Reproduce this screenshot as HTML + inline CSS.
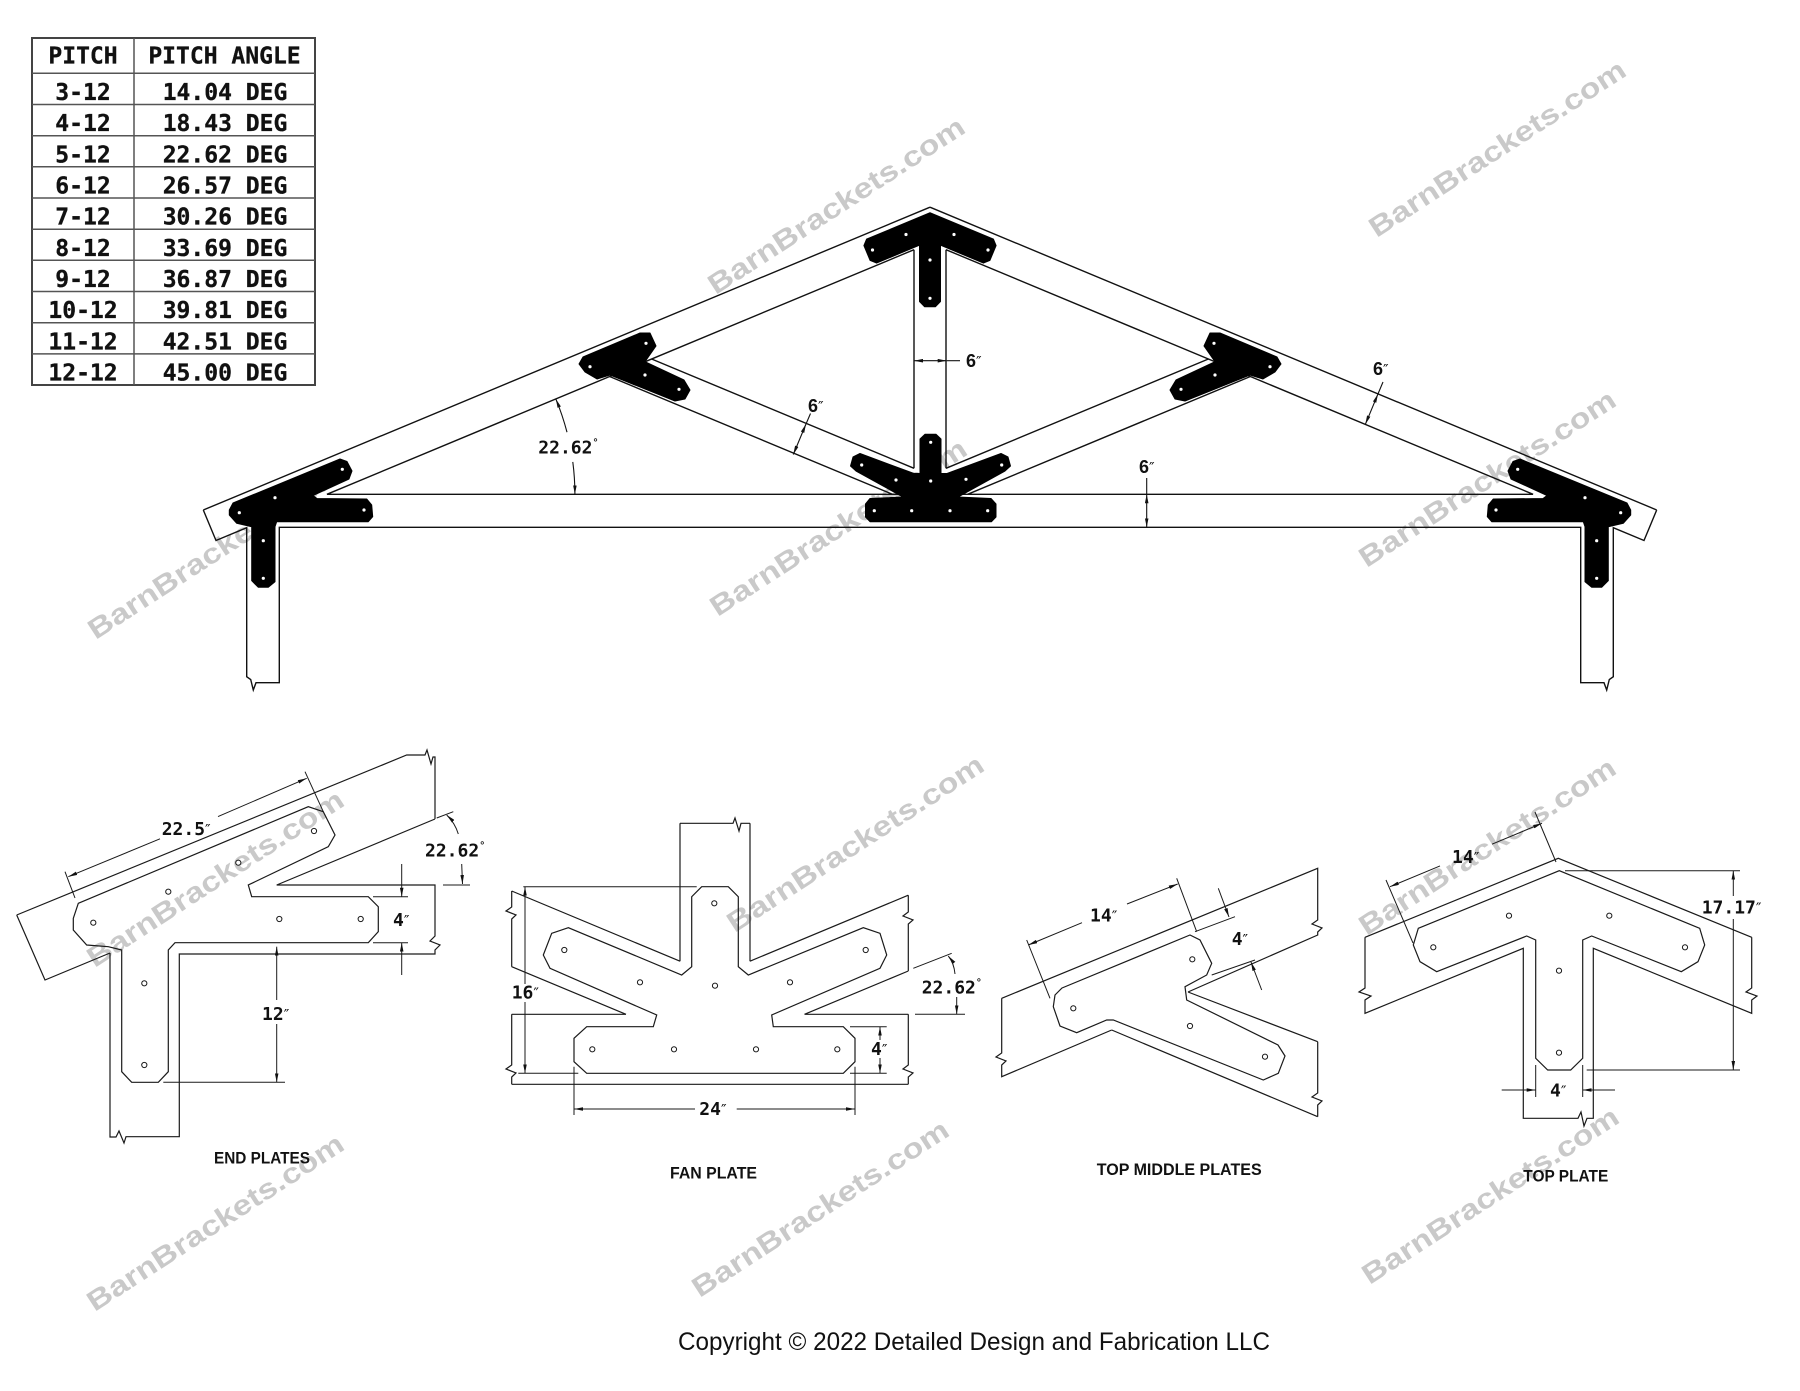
<!DOCTYPE html>
<html><head><meta charset="utf-8"><title>Truss plates</title>
<style>html,body{margin:0;padding:0;background:#fff;}svg{display:block;}</style></head>
<body>
<svg xmlns="http://www.w3.org/2000/svg" width="1800" height="1391" viewBox="0 0 1800 1391">
<defs>
<marker id="ah" viewBox="0 0 10 4" refX="10" refY="2" markerWidth="9" markerHeight="3.6" markerUnits="userSpaceOnUse" orient="auto-start-reverse"><path d="M0,0 L10,2 L0,4z" fill="#111"/></marker>
</defs>
<rect width="1800" height="1391" fill="#fff"/>

<!-- Watermarks (bottom layer) -->
<g font-family="'Liberation Sans', sans-serif" font-weight="bold" font-size="28" fill="#c9c9c9" text-anchor="middle">
 <text x="836" y="215" transform="rotate(-33 836 205)" textLength="300" lengthAdjust="spacingAndGlyphs">BarnBrackets.com</text>
 <text x="1497" y="158" transform="rotate(-33 1497 148)" textLength="300" lengthAdjust="spacingAndGlyphs">BarnBrackets.com</text>
 <text x="216" y="560" transform="rotate(-33 216 550)" textLength="300" lengthAdjust="spacingAndGlyphs">BarnBrackets.com</text>
 <text x="838" y="537" transform="rotate(-33 838 527)" textLength="300" lengthAdjust="spacingAndGlyphs">BarnBrackets.com</text>
 <text x="1487" y="488" transform="rotate(-33 1487 478)" textLength="300" lengthAdjust="spacingAndGlyphs">BarnBrackets.com</text>
 <text x="215" y="888" transform="rotate(-33 215 878)" textLength="300" lengthAdjust="spacingAndGlyphs">BarnBrackets.com</text>
 <text x="855" y="853" transform="rotate(-33 855 843)" textLength="300" lengthAdjust="spacingAndGlyphs">BarnBrackets.com</text>
 <text x="1487" y="856" transform="rotate(-33 1487 846)" textLength="300" lengthAdjust="spacingAndGlyphs">BarnBrackets.com</text>
 <text x="215" y="1232" transform="rotate(-33 215 1222)" textLength="300" lengthAdjust="spacingAndGlyphs">BarnBrackets.com</text>
 <text x="820" y="1218" transform="rotate(-33 820 1208)" textLength="300" lengthAdjust="spacingAndGlyphs">BarnBrackets.com</text>
 <text x="1490" y="1205" transform="rotate(-33 1490 1195)" textLength="300" lengthAdjust="spacingAndGlyphs">BarnBrackets.com</text>
</g>

<!-- Detail drawings: timbers -->
<g fill="none" stroke="#1a1a1a" stroke-width="1.2">
 <path d="M16.7,915 L406.7,755 L425,755 L427,750 L431,764 L433,757 L435,757 L435,819 M16.7,915 L45,980 L110,953 M435,819 L276.7,885 L435,885 L435,936 L430,941 L440,945 L435,950 L435,954 L179.3,954 L179.3,1136.7 L126,1136.7 L124,1143 L119,1131 L116,1137 L110,1137 L110,953"/>
 <path d="M680,823.3 L680,961.2 M750,823.3 L750,961.2 M680,823.3 L733,823.3 L735,818 L739,831 L741,823.3 L750,823.3 M511.7,891 L680,961.2 M511.7,966.7 L626,1014.3 M511.7,891 L511.7,907 L506,911 L516,915 L511.7,919 L511.7,966.7 M750,961.2 L908.3,895.2 M804.5,1014.3 L908.3,971 M908.3,895.2 L908.3,912 L903,916 L913,920 L908.3,924 L908.3,971 M511.7,1014.3 L626,1014.3 M804.5,1014.3 L908.3,1014.3 M511.7,1084.3 L908.3,1084.3 M511.7,1014.3 L511.7,1065 L506,1069 L516,1073 L511.7,1077 L511.7,1084.3 M908.3,1014.3 L908.3,1065 L903,1069 L913,1073 L908.3,1077 L908.3,1084.3"/>
 <path d="M1001.7,998.3 L1317.7,868.3 L1317.7,920 L1312,924 L1322,928 L1317.7,932 L1317.7,935 L1188,992 M1001.7,998.3 L1001.7,1053 L996,1057 L1006,1061 L1001.7,1065 L1001.7,1076.7 L1111.7,1030 M1188,992 L1317.7,1041.7 M1111.7,1030 L1317.7,1116.7 M1317.7,1041.7 L1317.7,1093 L1312,1097 L1322,1101 L1317.7,1105 L1317.7,1116.7"/>
 <path d="M1365,937.3 L1558.3,858.3 L1751.7,937.3 M1365,937.3 L1365,988 L1359,992 L1371,996 L1365,1000 L1365,1013.3 L1523.3,948.3 L1523.3,1118.3 L1578,1118.3 L1581,1112 L1584,1126 L1587,1118.3 L1593.3,1118.3 L1593.3,948.3 L1751.7,1013.3 L1751.7,1000 L1757,996 L1746,992 L1751.7,988 L1751.7,937.3"/>
</g>

<!-- Detail plates (outline only) -->
<g fill="none" stroke="#1a1a1a" stroke-width="1.2" stroke-linejoin="miter">
 <polygon points="78.3,903.3 308.3,806.7 323.3,811.7 335,835 328.3,846.7 248.3,885 251.7,896.7 368.3,896.7 378.3,906.7 378.3,931.7 368.3,942.7 175,942.7 168.3,950 168.3,1071.7 158.3,1082.3 131.7,1082.3 121.7,1071.7 121.7,950 108.3,946.7 86.7,945 73.3,930 73.3,918.3"/>
 <polygon points="568.3,927.7 551.7,933.3 543.3,955 550,968.3 656.7,1015 653.3,1026.7 586.7,1026.7 574,1038.3 574,1061.7 586.7,1073.3 843.3,1073.3 855,1061.7 855,1038.3 843.3,1026.7 773.3,1026.7 771.7,1015 880,968.3 886.7,955 880,933.3 863.3,927.7 748.3,975 738.3,966.7 738.3,896.7 728.3,886.7 701.7,886.7 691.7,896.7 691.7,966.7 681.7,975"/>
 <polygon points="1062,988 1190,935 1200,940 1211.7,963.3 1206.7,975 1185,986.7 1186.7,1000 1278,1045 1285,1056 1278.3,1073.3 1263.3,1080 1113.3,1020 1106.7,1020 1076.7,1032.7 1060,1026 1053.3,1006.7 1055,995"/>
 <polygon points="1418.3,928.3 1559.3,870.7 1699.7,928.3 1704.7,945 1698,961.7 1681.3,971.7 1591.7,936 1582.7,940 1582.7,1058.3 1570.7,1070 1547.7,1070 1535.7,1058.3 1535.7,940 1526.7,936 1436.7,971.7 1420,961.7 1413.3,945"/>
</g>
<g fill="#fff" stroke="#1a1a1a" stroke-width="1">
 <circle cx="93.3" cy="922.7" r="2.6"/><circle cx="168.3" cy="891.7" r="2.6"/><circle cx="238.3" cy="862.7" r="2.6"/><circle cx="314" cy="831" r="2.6"/><circle cx="279.3" cy="919" r="2.6"/><circle cx="360.7" cy="919" r="2.6"/><circle cx="144.3" cy="983.3" r="2.6"/><circle cx="144.3" cy="1065" r="2.6"/>
 <circle cx="564.3" cy="950" r="2.6"/><circle cx="640" cy="982.3" r="2.6"/><circle cx="714.3" cy="903.3" r="2.6"/><circle cx="715" cy="985.7" r="2.6"/><circle cx="790" cy="982.3" r="2.6"/><circle cx="865.7" cy="950" r="2.6"/><circle cx="592.3" cy="1049.3" r="2.6"/><circle cx="674" cy="1049.3" r="2.6"/><circle cx="756" cy="1049.3" r="2.6"/><circle cx="837.3" cy="1049.3" r="2.6"/>
 <circle cx="1073.3" cy="1008.3" r="2.6"/><circle cx="1192.3" cy="959.3" r="2.6"/><circle cx="1190" cy="1026" r="2.6"/><circle cx="1265" cy="1056.7" r="2.6"/>
 <circle cx="1433.3" cy="947.3" r="2.6"/><circle cx="1509" cy="915.7" r="2.6"/><circle cx="1609.3" cy="915.7" r="2.6"/><circle cx="1685" cy="947.3" r="2.6"/><circle cx="1559" cy="970.7" r="2.6"/><circle cx="1559" cy="1052.7" r="2.6"/>
</g>

<!-- Detail dimension lines -->
<g fill="none" stroke="#1a1a1a" stroke-width="1">
 <path d="M68.3,876.7 L160,838.8" marker-start="url(#ah)"/>
 <path d="M218,816.6 L306.7,778.3" marker-end="url(#ah)"/>
 <path d="M65,871.7 L75,898 M305,771.7 L323.3,811.7"/>
 <path d="M436.7,818 L453.3,811.7 M443,885 L470,885"/>
 <path d="M446.7,815 Q455,823 458.3,834" marker-start="url(#ah)"/>
 <path d="M461.7,864 L462.5,884" marker-end="url(#ah)"/>
 <path d="M373,896.7 L408,896.7 M373,942.7 L408,942.7"/>
 <path d="M401.7,864 L401.7,896.7" marker-end="url(#ah)"/>
 <path d="M401.7,975 L401.7,942.7" marker-end="url(#ah)"/>
 <path d="M276.7,946.7 L276.7,1000" marker-start="url(#ah)"/>
 <path d="M276.7,1024 L276.7,1082.3" marker-end="url(#ah)"/>
 <path d="M163.3,1082.3 L285,1082.3"/>
 <path d="M525,886.7 L525,984" marker-start="url(#ah)"/>
 <path d="M525,1002 L525,1073.3" marker-end="url(#ah)"/>
 <path d="M523.3,886.7 L696.7,886.7 M518.3,1073.3 L578.3,1073.3"/>
 <path d="M850,1026.7 L886.7,1026.7 M850,1073.3 L886.7,1073.3"/>
 <path d="M880,1026.7 L880,1040" marker-start="url(#ah)"/>
 <path d="M880,1058 L880,1073.3" marker-end="url(#ah)"/>
 <path d="M574,1109 L695,1109" marker-start="url(#ah)"/>
 <path d="M736.7,1109 L855,1109" marker-end="url(#ah)"/>
 <path d="M574,1066.7 L574,1115 M855,1066.7 L855,1115"/>
 <path d="M913.3,968.3 L951.7,953.3 M915,1014.3 L965,1014.3"/>
 <path d="M948.3,956 Q954,963 955,974" marker-start="url(#ah)"/>
 <path d="M956.7,997 L956.7,1014.3" marker-end="url(#ah)"/>
 <path d="M1028.3,945 L1082,922.7" marker-start="url(#ah)"/>
 <path d="M1127,904 L1177.7,884" marker-end="url(#ah)"/>
 <path d="M1026.7,940 L1050,998.3 M1176.7,878.3 L1196.7,931.7"/>
 <path d="M1195,931.7 L1235,916.7 M1211.7,975 L1255,960"/>
 <path d="M1218.3,888.3 L1229,917" marker-end="url(#ah)"/>
 <path d="M1261.7,990 L1251,962" marker-end="url(#ah)"/>
 <path d="M1390,886.7 L1440,865.9" marker-start="url(#ah)"/>
 <path d="M1492,844.2 L1542,823.3" marker-end="url(#ah)"/>
 <path d="M1413,943 L1386,880 M1556,862 L1535,812"/>
 <path d="M1733.3,870.7 L1733.3,896" marker-start="url(#ah)"/>
 <path d="M1733.3,919 L1733.3,1070" marker-end="url(#ah)"/>
 <path d="M1565,870.7 L1740,870.7 M1586.7,1070 L1740,1070"/>
 <path d="M1501.7,1090 L1535.7,1090" marker-end="url(#ah)"/>
 <path d="M1615,1090 L1582.7,1090" marker-end="url(#ah)"/>
 <path d="M1535.7,1065 L1535.7,1097 M1582.7,1065 L1582.7,1097"/>
</g>

<!-- Detail dimension texts -->
<g font-family="'DejaVu Sans Mono', 'Liberation Mono', monospace" font-weight="bold" font-size="18" fill="#111">
 <text x="161.7" y="835">22.5<tspan font-family="'DejaVu Sans', sans-serif" font-weight="normal" font-size="15">″</tspan></text>
 <text x="425" y="856.7">22.62<tspan font-size="10" dy="-8">°</tspan></text>
 <text x="393" y="926">4<tspan font-family="'DejaVu Sans', sans-serif" font-weight="normal" font-size="15">″</tspan></text>
 <text x="262" y="1020">12<tspan font-family="'DejaVu Sans', sans-serif" font-weight="normal" font-size="15">″</tspan></text>
 <text x="511.7" y="998.3">16<tspan font-family="'DejaVu Sans', sans-serif" font-weight="normal" font-size="15">″</tspan></text>
 <text x="699.3" y="1115">24<tspan font-family="'DejaVu Sans', sans-serif" font-weight="normal" font-size="15">″</tspan></text>
 <text x="871" y="1055">4<tspan font-family="'DejaVu Sans', sans-serif" font-weight="normal" font-size="15">″</tspan></text>
 <text x="921.7" y="993.3">22.62<tspan font-size="10" dy="-8">°</tspan></text>
 <text x="1090" y="921.7">14<tspan font-family="'DejaVu Sans', sans-serif" font-weight="normal" font-size="15">″</tspan></text>
 <text x="1231.7" y="945">4<tspan font-family="'DejaVu Sans', sans-serif" font-weight="normal" font-size="15">″</tspan></text>
 <text x="1452" y="863">14<tspan font-family="'DejaVu Sans', sans-serif" font-weight="normal" font-size="15">″</tspan></text>
 <text x="1701.7" y="913.3">17.17<tspan font-family="'DejaVu Sans', sans-serif" font-weight="normal" font-size="15">″</tspan></text>
 <text x="1550" y="1096.7">4<tspan font-family="'DejaVu Sans', sans-serif" font-weight="normal" font-size="15">″</tspan></text>
</g>
<g font-family="'Liberation Sans', sans-serif" font-weight="bold" font-size="17" fill="#111">
 <text x="214" y="1163.3" textLength="96" lengthAdjust="spacingAndGlyphs">END PLATES</text>
 <text x="670" y="1178.3" textLength="87" lengthAdjust="spacingAndGlyphs">FAN PLATE</text>
 <text x="1096.7" y="1175" textLength="165" lengthAdjust="spacingAndGlyphs">TOP MIDDLE PLATES</text>
 <text x="1523.3" y="1181.7" textLength="85" lengthAdjust="spacingAndGlyphs">TOP PLATE</text>
</g>

<!-- Truss: left half, mirrored for right half -->
<g id="lh">
 <path fill="none" stroke="#111" stroke-width="1.4" d="M203.3,510 L930,207.2 M203.3,510 L216,540.5 L246.7,527.7 L246.7,676.7 L250.7,679.5 L253.3,690 L256,682.7 L279.3,682.7 L279.3,527.3 L930,527.3 M326.9,494.3 L930,494.3 M326.9,494.3 L914,249.7 M914,249.7 L914,468.3 M651.6,359 L914,468.3 M609.6,376.5 L892.4,494.3"/>
 <path fill="#000" stroke="#000" stroke-width="1" stroke-linejoin="round" d="M233,503 L340,459 L347,461.5 L352,471 L349,479 L313,495.5 L317,498.5 L366.7,499 L371.7,505 L372.7,516.7 L368.3,521.7 L276.7,521.7 L275,526.7 L275,581.7 L268.3,587.3 L258.3,587.3 L251.7,580.7 L251.7,526.7 L236.7,523.3 L229.3,515 L229.3,510 Z M583,357 L640,333 L650,333 L656,346 L645,361.7 L684,380 L690,390 L685,399 L675,401 L610,375 L597,379 L585,372 L579,364 Z"/>
 <g fill="#fff">
  <circle cx="239.3" cy="512.7" r="1.6"/><circle cx="275" cy="497.7" r="1.6"/><circle cx="342.3" cy="469.3" r="1.6"/><circle cx="364" cy="510" r="1.6"/><circle cx="263.3" cy="540.7" r="1.6"/><circle cx="263.3" cy="578.3" r="1.6"/>
  <circle cx="590" cy="366.7" r="1.6"/><circle cx="646" cy="343.3" r="1.6"/><circle cx="645" cy="375" r="1.6"/><circle cx="679" cy="389.3" r="1.6"/>
 </g>
</g>
<use href="#lh" transform="matrix(-1 0 0 1 1860 0)"/>

<!-- Top plate & fan plate (truss) -->
<path fill="#000" stroke="#000" stroke-width="1" stroke-linejoin="round" d="M866.6,239.1 L930,212.7 L993.4,239.1 L996.1,245.6 L989.9,260.4 L983.4,263.1 L940.5,245.2 L940.5,301.5 L935.5,306.7 L924.5,306.7 L919.5,301.5 L919.5,245.2 L876.6,263.1 L870.1,260.4 L863.9,245.6 Z M870,498.5 L903,497 L856,471 L850.5,466 L853,457 L860,453.5 L914,473.5 L920,473.5 L920,439 L925,434.3 L936,434.3 L941,439 L941,473.5 L947,473.5 L1001,453.5 L1008,457 L1010.5,466 L1005,471 L958,497 L991,498.5 L996,504 L996,517 L991.5,521.7 L870,521.7 L865.5,517 L865.5,504 Z"/>
<g fill="#fff">
 <circle cx="872.5" cy="250" r="1.6"/><circle cx="906" cy="234.5" r="1.6"/><circle cx="954" cy="234.5" r="1.6"/><circle cx="988" cy="250" r="1.6"/><circle cx="930" cy="260" r="1.6"/><circle cx="930" cy="298.3" r="1.6"/>
 <circle cx="861.7" cy="465" r="1.6"/><circle cx="896" cy="480" r="1.6"/><circle cx="930.7" cy="442.3" r="1.6"/><circle cx="930.7" cy="481" r="1.6"/><circle cx="966" cy="479.3" r="1.6"/><circle cx="1001.7" cy="465" r="1.6"/>
 <circle cx="874.3" cy="510.7" r="1.6"/><circle cx="911.7" cy="510.7" r="1.6"/><circle cx="950" cy="510.7" r="1.6"/><circle cx="987.7" cy="510.7" r="1.6"/>
</g>

<!-- Truss dimensions -->
<g fill="none" stroke="#111" stroke-width="1.1">
 <path d="M555.8,398.9 A248,248 0 0,1 567,432.2" marker-start="url(#ah)"/>
 <path d="M572.8,461.9 A248,248 0 0,1 574.9,494.3" marker-end="url(#ah)"/>
 <path d="M914,360.7 L946.7,360.7" marker-start="url(#ah)" marker-end="url(#ah)"/>
 <path d="M946.7,360.7 L960,360.7"/>
 <path d="M806,424 L793.3,454.5" marker-start="url(#ah)" marker-end="url(#ah)"/>
 <path d="M806,424 L810.5,413.5"/>
 <path d="M1146.7,494.3 L1146.7,527.3" marker-start="url(#ah)" marker-end="url(#ah)"/>
 <path d="M1146.7,478 L1146.7,494.3"/>
 <path d="M1378,393.9 L1365.3,424.4" marker-start="url(#ah)" marker-end="url(#ah)"/>
 <path d="M1378,393.9 L1383,382"/>
</g>
<g fill="#111">
 <text x="538.3" y="453.3" font-family="'DejaVu Sans Mono', 'Liberation Mono', monospace" font-weight="bold" font-size="18">22.62<tspan font-size="10" dy="-8">°</tspan></text>
 <g font-family="'Liberation Sans', sans-serif" font-weight="bold" font-size="18">
  <text x="966" y="367">6<tspan font-family="'DejaVu Sans', sans-serif" font-weight="normal" font-size="15">″</tspan></text>
  <text x="808" y="412">6<tspan font-family="'DejaVu Sans', sans-serif" font-weight="normal" font-size="15">″</tspan></text>
  <text x="1139" y="473">6<tspan font-family="'DejaVu Sans', sans-serif" font-weight="normal" font-size="15">″</tspan></text>
  <text x="1373" y="375">6<tspan font-family="'DejaVu Sans', sans-serif" font-weight="normal" font-size="15">″</tspan></text>
 </g>
</g>

<!-- Pitch table -->
<g>
 <rect x="32" y="38" width="283" height="347" fill="#fff" stroke="#444" stroke-width="2"/>
 <path fill="none" stroke="#555" stroke-width="1.5" d="M134,38 L134,385 M32,73.3 L315,73.3 M32,104.5 L315,104.5 M32,135.7 L315,135.7 M32,166.8 L315,166.8 M32,198 L315,198 M32,229.2 L315,229.2 M32,260.3 L315,260.3 M32,291.5 L315,291.5 M32,322.7 L315,322.7 M32,353.9 L315,353.9"/>
 <g font-family="'DejaVu Sans Mono', 'Liberation Mono', monospace" font-weight="bold" font-size="23" fill="#111" stroke="#111" stroke-width="0.3" text-anchor="middle">
  <text x="83" y="63.3">PITCH</text>
  <text x="224.5" y="63.3">PITCH ANGLE</text>
  <text x="83" y="100">3-12</text><text x="225" y="100">14.04 DEG</text>
  <text x="83" y="131.2">4-12</text><text x="225" y="131.2">18.43 DEG</text>
  <text x="83" y="162.3">5-12</text><text x="225" y="162.3">22.62 DEG</text>
  <text x="83" y="193.5">6-12</text><text x="225" y="193.5">26.57 DEG</text>
  <text x="83" y="224.7">7-12</text><text x="225" y="224.7">30.26 DEG</text>
  <text x="83" y="255.9">8-12</text><text x="225" y="255.9">33.69 DEG</text>
  <text x="83" y="287">9-12</text><text x="225" y="287">36.87 DEG</text>
  <text x="83" y="318.2">10-12</text><text x="225" y="318.2">39.81 DEG</text>
  <text x="83" y="349.4">11-12</text><text x="225" y="349.4">42.51 DEG</text>
  <text x="83" y="380.5">12-12</text><text x="225" y="380.5">45.00 DEG</text>
 </g>
</g>

<!-- Copyright -->
<text x="678" y="1350" font-family="'Liberation Sans', sans-serif" font-size="25" fill="#111" textLength="592" lengthAdjust="spacingAndGlyphs">Copyright © 2022 Detailed Design and Fabrication LLC</text>
</svg>
</body></html>
